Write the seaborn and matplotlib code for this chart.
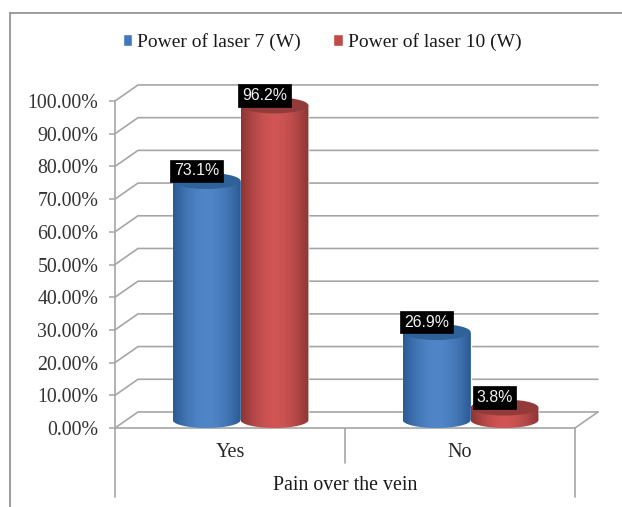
import numpy as np
import pandas as pd
import seaborn as sns
import matplotlib
matplotlib.use("Agg")
import matplotlib.pyplot as plt
from matplotlib.lines import Line2D
from matplotlib.patches import Ellipse, PathPatch
from matplotlib.path import Path
from matplotlib.transforms import Affine2D

categories = ["Yes", "No"]
series_names = ["Power of laser 7 (W)", "Power of laser 10 (W)"]
laser_7_values = [73.1, 26.9]
laser_10_values = [96.2, 3.8]
value_ticks = [0, 10, 20, 30, 40, 50, 60, 70, 80, 90, 100]
axis_title = "Pain over the vein"

W, H = 622, 507
SERIF = "Liberation Serif"
GRID = "#a6a6a6"
COLORS = ["#3f78bd", "#bf4b49"]
EDGE = [np.array([0x2b, 0x5a, 0x94]), np.array([0x8c, 0x35, 0x35])]
MID = [np.array([0x50, 0x86, 0xc8]), np.array([0xd0, 0x55, 0x54])]
CAP = ["#2f6299", "#933b3b"]

sns.set_theme(style="white")
plt.rcParams["font.family"] = [SERIF, "DejaVu Sans"]

fig = plt.figure(figsize=(W / 100, H / 100), dpi=100, facecolor="white")
ax = fig.add_axes([115 / W, 1 - 428 / H, 460 / W, 327 / H])

frame = pd.DataFrame({
    "category": categories * 2,
    "series": [series_names[0]] * 2 + [series_names[1]] * 2,
    "value": laser_7_values + laser_10_values,
})
sns.barplot(data=frame, x="category", y="value", hue="series", order=categories,
            hue_order=series_names, palette=COLORS, width=0.59, gap=0, saturation=1,
            ax=ax, zorder=2)

ax.set_xlim(-0.5, 1.5)
ax.set_ylim(0, 100)

# Depth of the 3-D box, in data units; columns stand halfway back.
depth_x, depth_y = 0.1, 4.9
mid_x, mid_y = depth_x / 2 - 0.004, depth_y / 2

# Back-wall gridlines, each with its diagonal on the side wall.
for v in value_ticks:
    ax.plot([-0.5, -0.5 + depth_x, 1.5 + depth_x], [v, v + depth_y, v + depth_y],
            color=GRID, lw=1.2, clip_on=False, zorder=1, solid_joinstyle="miter")
# Floor edges.
ax.plot([-0.5, 1.5, 1.5 + depth_x], [0, 0, depth_y], color=GRID, lw=1.2,
        clip_on=False, zorder=1)

# Turn every bar into a shaded cylinder with an elliptical cap.
shift = Affine2D().translate(mid_x, mid_y) + ax.transData
ramp = np.abs(np.linspace(-1, 1, 128)) ** 1.8
for i, container in enumerate(ax.containers):
    shade = (EDGE[i] * ramp[:, None] + MID[i] * (1 - ramp[:, None])) / 255
    shade = shade[None, :, :]
    for bar in container:
        bar.set_transform(shift)
        bar.set_clip_on(False)
        x0, w, h = bar.get_x(), bar.get_width(), bar.get_height()
        cx = x0 + w / 2 + mid_x
        theta = np.linspace(np.pi, 2 * np.pi, 60)
        arc_x = cx + w / 2 * np.cos(theta)
        arc_y = mid_y + depth_y / 2 * np.sin(theta)
        verts = np.column_stack([
            np.r_[cx - w / 2, arc_x, cx + w / 2, cx - w / 2],
            np.r_[h + mid_y, arc_y, h + mid_y, h + mid_y],
        ])
        body = PathPatch(Path(verts), facecolor="none", edgecolor="none",
                         transform=ax.transData)
        ax.add_patch(body)
        im = ax.imshow(shade, extent=[cx - w / 2, cx + w / 2, -5, h + mid_y],
                       aspect="auto", zorder=3, origin="lower")
        im.set_clip_path(body)
        ax.add_patch(Ellipse((cx, h + mid_y), w, depth_y, facecolor=CAP[i],
                             edgecolor="none", zorder=4, clip_on=False))
        ax.annotate(f"{h:.1f}%", (cx, h + mid_y), xytext=(-10, 10),
                    textcoords="offset pixels", ha="center", va="center",
                    color="#f2f2f2", fontsize=11.4, family="Liberation Sans", zorder=6,
                    annotation_clip=False,
                    bbox=dict(boxstyle="square,pad=0.24", facecolor="black",
                              edgecolor="black", lw=0.5))

ax.set_xlim(-0.5, 1.5)
ax.set_ylim(0, 100)
ax.set_facecolor("none")

sns.despine(ax=ax, top=True, right=True, bottom=True, left=False)
ax.spines["left"].set_color(GRID)
ax.spines["left"].set_linewidth(1.2)
ax.grid(False)

ax.set_yticks(value_ticks)
ax.set_yticklabels([f"{v:.2f}%" for v in value_ticks], fontsize=14.3, color="#333333")
ax.tick_params(axis="y", length=4, width=1.1, color=GRID, pad=8, left=True)
ax.set_xticks(range(len(categories)))
ax.set_xticklabels(categories, fontsize=14.5, color="#262626")
ax.tick_params(axis="x", length=0, pad=11, bottom=False)
ax.set_ylabel("")
ax.set_xlabel(axis_title, fontsize=14.3, color="#1a1a1a", labelpad=10)

# Multi-level category dividers under the floor.
for x_pos, drop in [(-0.5, 21), (0.5, 10.8), (1.5, 21)]:
    ax.plot([x_pos, x_pos], [0, -drop], color=GRID, lw=1.2, clip_on=False, zorder=1)

sns.move_legend(ax, "center", bbox_to_anchor=(322 / W, 1 - 42 / H),
                bbox_transform=fig.transFigure, ncol=2, frameon=False, title=None,
                fontsize=14, handlelength=0.5, handleheight=0.5,
                handletextpad=0.25, columnspacing=1.65, labelcolor="#1a1a1a")

# Outer chart frame.
for xs, ys in [((10, 622), (13, 13)), ((10, 10), (13, 507))]:
    fig.add_artist(Line2D([x / W for x in xs], [1 - y / H for y in ys],
                          color="#8c8c8c", lw=1.2))

fig.savefig("out.png", dpi=100)
